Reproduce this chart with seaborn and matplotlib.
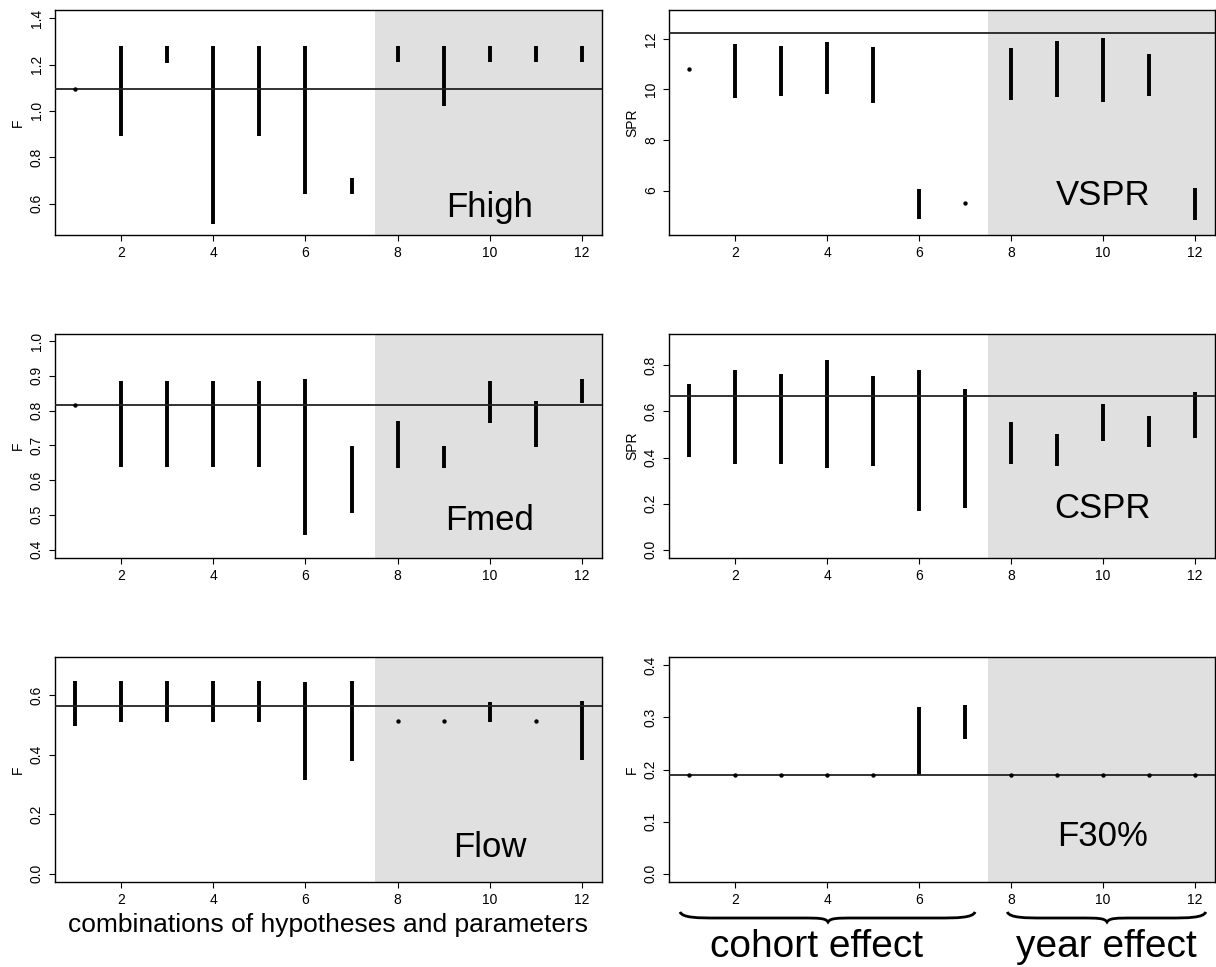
import matplotlib
matplotlib.use("Agg")
import matplotlib.pyplot as plt
import matplotlib.transforms as mtransforms
from matplotlib.path import Path
from matplotlib.patches import PathPatch
import pandas as pd
import seaborn as sns

# 조합 번호 (1-7: cohort effect, 8-12: year effect)
combos = list(range(1, 13))

fhigh_lo = [1.095, 0.893, 1.207, 0.51, 0.893, 0.64, 0.64, 1.21, 1.02, 1.21, 1.21, 1.21]
fhigh_hi = [1.095, 1.281, 1.281, 1.281, 1.281, 1.279, 0.71, 1.28, 1.28, 1.28, 1.28, 1.28]
fhigh_ref = 1.093

vspr_lo = [10.8, 9.66, 9.72, 9.81, 9.46, 4.89, 5.52, 9.59, 9.68, 9.52, 9.75, 4.85]
vspr_hi = [10.8, 11.81, 11.73, 11.88, 11.67, 6.07, 5.52, 11.64, 11.93, 12.04, 11.40, 6.11]
vspr_ref = 12.24

fmed_lo = [0.815, 0.637, 0.637, 0.637, 0.637, 0.441, 0.506, 0.634, 0.634, 0.764, 0.694, 0.822]
fmed_hi = [0.815, 0.885, 0.885, 0.885, 0.885, 0.89, 0.699, 0.769, 0.699, 0.885, 0.828, 0.89]
fmed_ref = 0.815

cspr_lo = [0.402, 0.373, 0.373, 0.356, 0.363, 0.166, 0.181, 0.373, 0.363, 0.472, 0.446, 0.486]
cspr_hi = [0.718, 0.781, 0.761, 0.822, 0.752, 0.779, 0.699, 0.554, 0.501, 0.634, 0.580, 0.685]
cspr_ref = 0.669

flow_lo = [0.497, 0.508, 0.508, 0.508, 0.508, 0.316, 0.377, 0.512, 0.512, 0.508, 0.512, 0.381]
flow_hi = [0.647, 0.647, 0.647, 0.647, 0.647, 0.644, 0.647, 0.512, 0.512, 0.576, 0.512, 0.58]
flow_ref = 0.564

f30_lo = [0.19, 0.19, 0.19, 0.19, 0.19, 0.19, 0.259, 0.19, 0.19, 0.19, 0.19, 0.19]
f30_hi = [0.19, 0.19, 0.19, 0.19, 0.19, 0.320, 0.323, 0.19, 0.19, 0.19, 0.19, 0.19]
f30_ref = 0.19

x_ticks = [2, 4, 6, 8, 10, 12]


def make_df(lo, hi):
    return pd.DataFrame({
        "combo": combos + combos,
        "value": lo + hi,
    })


sns.set_theme(style="ticks")
plt.rcParams["font.family"] = ["Liberation Sans", "DejaVu Sans"]
plt.rcParams["text.color"] = "black"
plt.rcParams["axes.labelcolor"] = "black"
plt.rcParams["xtick.color"] = "black"
plt.rcParams["ytick.color"] = "black"

fig = plt.figure(figsize=(12.16, 9.67), dpi=100)

col_left = [55 / 1216, 669 / 1216]
col_w = [547 / 1216, 546 / 1216]
row_bottom = [1 - 235 / 967, 1 - 558 / 967, 1 - 882 / 967]
row_h = [225 / 967, 224 / 967, 225 / 967]

# (행, 열, lo, hi, 기준선, 라벨, y축 이름, ylim, yticks, tick 포맷, 라벨 높이)
panels = [
    (0, 0, fhigh_lo, fhigh_hi, fhigh_ref, "Fhigh", "F", (0.464, 1.436),
     [0.6, 0.8, 1.0, 1.2, 1.4], "{:.1f}", 0.08),
    (0, 1, vspr_lo, vspr_hi, vspr_ref, "VSPR", "SPR", (4.24, 13.14),
     [6, 8, 10, 12], "{:.0f}", 0.133),
    (1, 0, fmed_lo, fmed_hi, fmed_ref, "Fmed", "F", (0.376, 1.02),
     [0.4, 0.5, 0.6, 0.7, 0.8, 0.9, 1.0], "{:.1f}", 0.125),
    (1, 1, cspr_lo, cspr_hi, cspr_ref, "CSPR", "SPR", (-0.036, 0.936),
     [0.0, 0.2, 0.4, 0.6, 0.8], "{:.1f}", 0.18),
    (2, 0, flow_lo, flow_hi, flow_ref, "Flow", "F", (-0.028, 0.728),
     [0.0, 0.2, 0.4, 0.6], "{:.1f}", 0.11),
    (2, 1, f30_lo, f30_hi, f30_ref, "F30%", "F", (-0.016, 0.416),
     [0.0, 0.1, 0.2, 0.3, 0.4], "{:.1f}", 0.16),
]

axes = {}
for r, c, lo, hi, ref, name, ylab, ylim, yticks, fmt, label_y in panels:
    ax = fig.add_axes([col_left[c], row_bottom[r], col_w[c], row_h[r]])
    axes[(r, c)] = ax
    ax.axvspan(7.5, 13, color="#e0e0e0", lw=0, zorder=0)

    df = make_df(lo, hi)
    sns.lineplot(data=df, x="combo", y="value", units="combo", estimator=None,
                 color="black", lw=2.8, solid_capstyle="butt", ax=ax, legend=False)
    dots = pd.DataFrame({"combo": combos, "lo": lo, "hi": hi})
    dots = dots[dots["lo"] == dots["hi"]]
    sns.scatterplot(data=dots, x="combo", y="lo", color="black", s=10,
                    linewidth=0, ax=ax, legend=False, zorder=4)

    ax.axhline(ref, color="#222222", lw=1.3, zorder=3)

    ax.set_xlim(0.56, 12.44)
    ax.set_ylim(*ylim)
    ax.set_xticks(x_ticks)
    ax.set_xticklabels([str(t) for t in x_ticks])
    ax.set_yticks(yticks)
    ax.set_yticklabels([fmt.format(t) for t in yticks], rotation=90, va="center")
    ax.tick_params(direction="out", length=4, width=0.8, labelsize=10, pad=4,
                   colors="black")
    for sp in ax.spines.values():
        sp.set_visible(True)
        sp.set_color("black")
        sp.set_linewidth(1.0)
    ax.set_xlabel("")
    ax.set_ylabel(ylab, fontsize=10)
    ax.yaxis.set_label_coords(-30 / 547, 0.5)

    trans = mtransforms.blended_transform_factory(ax.transData, ax.transAxes)
    ax.text(10, label_y, name, transform=trans, ha="center", va="baseline",
            fontsize=25, color="black")

# 아래쪽 설명
axes[(2, 0)].text(0.5, -0.222, "combinations of hypotheses and parameters",
                  transform=axes[(2, 0)].transAxes, ha="center", va="baseline",
                  fontsize=19, color="black")

ax = axes[(2, 1)]
trans = mtransforms.blended_transform_factory(ax.transData, ax.transAxes)


def brace(x0, x1, xc, yt=-0.133, ym=-0.16, ytip=-0.178):
    verts = [
        (x0, yt),
        (x0 + 0.05, ym), (x0 + 0.4, ym), (x0 + 0.8, ym),
        (xc - 0.6, ym),
        (xc - 0.2, ym), (xc - 0.05, ym), (xc, ytip),
        (xc + 0.05, ym), (xc + 0.2, ym), (xc + 0.6, ym),
        (x1 - 0.8, ym),
        (x1 - 0.4, ym), (x1 - 0.05, ym), (x1, yt),
    ]
    codes = [Path.MOVETO,
             Path.CURVE4, Path.CURVE4, Path.CURVE4,
             Path.LINETO,
             Path.CURVE4, Path.CURVE4, Path.CURVE4,
             Path.CURVE4, Path.CURVE4, Path.CURVE4,
             Path.LINETO,
             Path.CURVE4, Path.CURVE4, Path.CURVE4]
    patch = PathPatch(Path(verts, codes), transform=trans, fill=False,
                      lw=2.0, color="black", clip_on=False)
    ax.add_patch(patch)


brace(0.80, 7.22, 4.02)
brace(7.92, 12.24, 10.09)

ax.text(3.78, -0.333, "cohort effect", transform=trans, ha="center",
        va="baseline", fontsize=28, color="black")
ax.text(10.08, -0.333, "year effect", transform=trans, ha="center",
        va="baseline", fontsize=28, color="black")

fig.savefig("out.png", dpi=100)
